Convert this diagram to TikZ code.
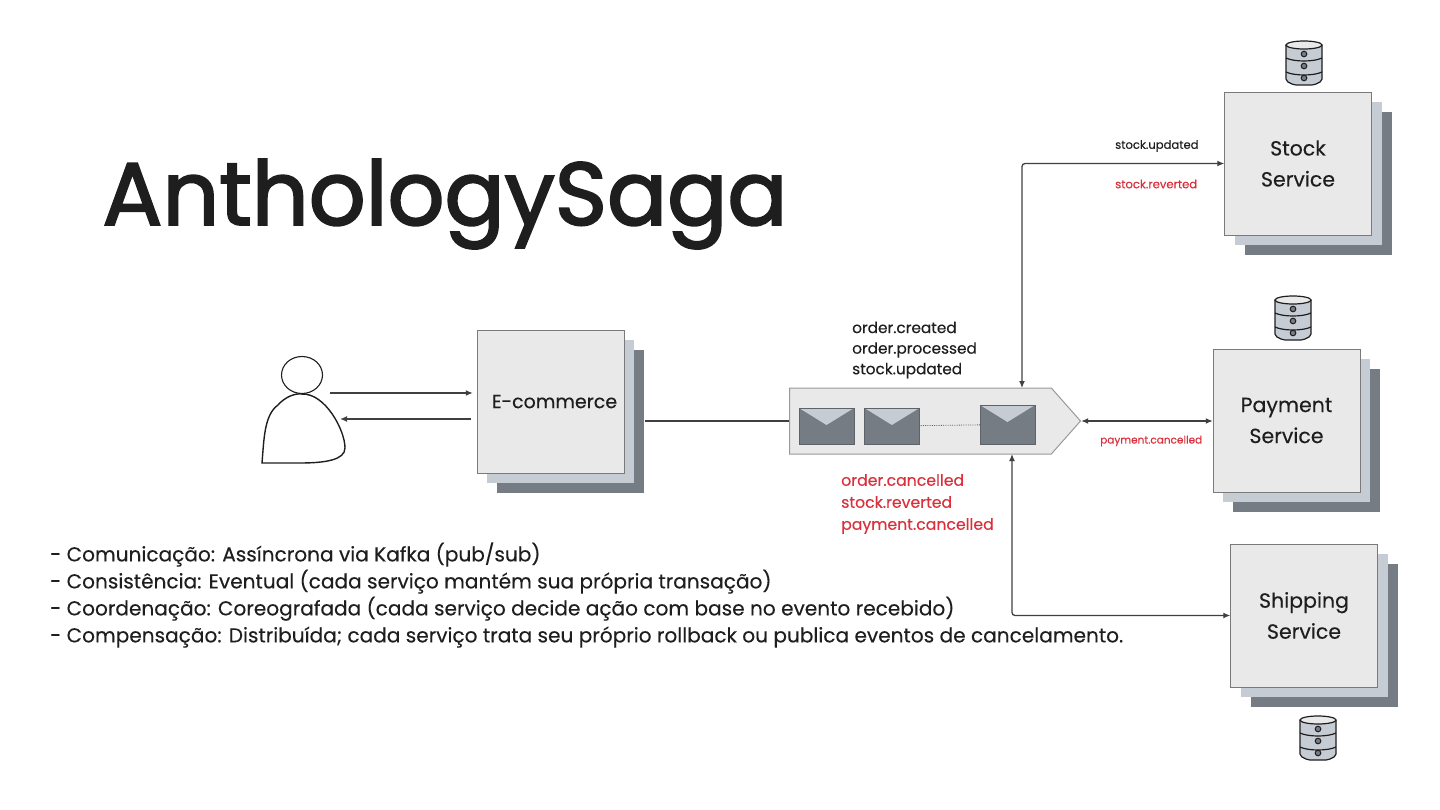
\documentclass[tikz,border=0pt]{standalone}
\usepackage{fontspec}
\setmainfont{Poppins}[FakeBold=0.25]
\newfontfamily\headfont{Poppins}[FakeBold=2.2]
\usepackage{tikz}
\usetikzlibrary{arrows.meta,positioning,shadows,shapes.symbols,shapes.geometric}
\definecolor{frontgray}{HTML}{E9E9EA}
\definecolor{midgray}{HTML}{C6CCD3}
\definecolor{backgray}{HTML}{767C84}
\definecolor{edgegray}{HTML}{7A7A7A}
\definecolor{inkdark}{HTML}{1E1E1E}
\definecolor{alertred}{HTML}{D9303C}

\begin{document}
\begin{tikzpicture}[
    x=1pt, y=-1pt,
    service/.style={draw=edgegray, fill=frontgray, align=center, inner sep=0pt, minimum width=147pt, minimum height=143pt,
        text=inkdark, font=\fontsize{20.5}{31}\selectfont,
        general shadow={fill=backgray, shadow xshift=20pt, shadow yshift=-20pt},
        general shadow={fill=midgray, shadow xshift=10pt, shadow yshift=-10pt}},
    broker/.style={draw=gray!80, fill=frontgray, line width=1pt, signal, signal to=east, signal pointer angle=97, inner sep=0pt, minimum width=291pt, minimum height=66pt},
    envelope/.style={fill=backgray, draw=backgray!80!black, inner sep=0pt, minimum width=55pt, minimum height=36pt,
        path picture={\fill[midgray] (path picture bounding box.north west) -- (path picture bounding box.north east)
            -- ([yshift=-17pt]path picture bounding box.north) -- cycle;}},
    note/.style={align=left, inner sep=0pt, anchor=west, text=inkdark, font=\fontsize{15.3}{20.6}\selectfont},
    alert/.style={note, text=alertred, font=\fontsize{15.7}{22}\selectfont},
    tag/.style={inner sep=0pt, anchor=west, text=inkdark, font=\fontsize{11.6}{13}\selectfont},
    arrow/.style={-{Latex[length=7pt,width=6pt]}, line width=1.3pt, draw=inkdark!85},
    twoway/.style={{Latex[length=7pt,width=6pt]}-{Latex[length=7pt,width=6pt]}, line width=1.3pt, draw=inkdark!85},
    dbicon/.pic={
        \draw[inkdark, line width=1.2pt, fill=midgray, rounded corners=2pt] (-18,-18) -- (-18,18) -- (-10,22) -- (10,22) -- (18,18) -- (18,-18);
        \draw[inkdark, line width=1.2pt, fill=frontgray] (0,-18) ellipse (18 and 4);
        \draw[inkdark, line width=1.2pt] (-18,-5) .. controls (-10,-1) and (10,-1) .. (18,-5);
        \draw[inkdark, line width=1.2pt] (-18,9) .. controls (-10,13) and (10,13) .. (18,9);
        \foreach \holey in {-9,3,15} {\draw[inkdark, line width=1pt, fill=backgray] (0,\holey) circle (2.8);}
    }
]
\useasboundingbox (0,0) rectangle (1440,810);

% title and notes
\node[inner sep=0pt, text=inkdark, font=\headfont\fontsize{89}{89}\selectfont] (title) at (445,204) {AnthologySaga};
\node[note, font=\fontsize{20.1}{27}\selectfont] (summary) at (50,595) {- Comunicação: Assíncrona via Kafka (pub/sub)\\
    - Consistência: Eventual (cada serviço mantém sua própria transação)\\
    - Coordenação: Coreografada (cada serviço decide ação com base no evento recebido)\\
    - Compensação: Distribuída; cada serviço trata seu próprio rollback ou publica eventos de cancelamento.};

% customer
\node[draw=inkdark, ellipse, line width=1.1pt, minimum width=41pt, minimum height=37pt, inner sep=0pt] (head) at (302,375) {};
\draw[inkdark, line width=1.4pt] (head.south) .. controls (325,393) and (345,430) .. (345,448)
    .. controls (345,460) and (325,463) .. (300,463) -- (262,463)
    .. controls (264,440) and (264,415) .. (278,405) .. controls (285,397) and (295,393) .. (head.south);
\coordinate (usersend) at (330,393);
\coordinate (userback) at (340,419);

% services
\node[service, font=\fontsize{19}{31}\selectfont, text depth=0pt] (shop) at (550.5,401.5) {\hspace{8pt}E-commerce};
\node[service] (stock) at (1298,163.5) {Stock\\Service};
\node[service] (payment) at (1286.5,420.5) {Payment\\Service};
\node[service] (shipping) at (1304,615.5) {Shipping\\Service};
\pic (stockdb) at (1304,63) {dbicon};
\pic (paymentdb) at (1293,318) {dbicon};
\pic (shippingdb) at (1318,738) {dbicon};

% kafka
\node[broker, anchor=west] (queue) at (789,421) {};
\node[envelope] (mailone) at (826.5,426) {};
\node[envelope, right=10pt of mailone] (mailtwo) {};
\node[envelope, minimum height=39pt] (mailthree) at (1007.5,424.5) {};
\draw[gray!80!black, densely dotted, line width=0.8pt] (mailtwo) -- (mailthree);
\coordinate (stockdrop) at (1022,388);
\coordinate (shipdrop) at (1012,454);

% connectors
\draw[arrow, shorten >=4pt] (usersend) -- (shop.west |- usersend);
\draw[arrow, shorten <=6pt] (shop.west |- userback) -- (userback);
\draw[line width=1.3pt, draw=inkdark!85, shorten <=21pt] (shop.east |- queue.west) -- (queue.west);
\draw[twoway, rounded corners=3pt] (stockdrop) |- (stock.west);
\draw[twoway] (queue.east) -- (payment.west |- queue.east);
\draw[twoway, rounded corners=3pt] (shipdrop) |- (shipping.west);

% event labels
\node[note] (produced) at (852,350) {order.created\\order.processed\\stock.updated};
\node[alert] (compensated) at (841,504) {order.cancelled\\stock.reverted\\payment.cancelled};
\node[tag] (stockup) at (1115,146) {stock.updated};
\node[tag, text=alertred] (stockrev) at (1115,184) {stock.reverted};
\node[tag, text=alertred, font=\fontsize{10.5}{12}\selectfont] (paycancel) at (1100,441) {payment.cancelled};
\end{tikzpicture}
\end{document}
